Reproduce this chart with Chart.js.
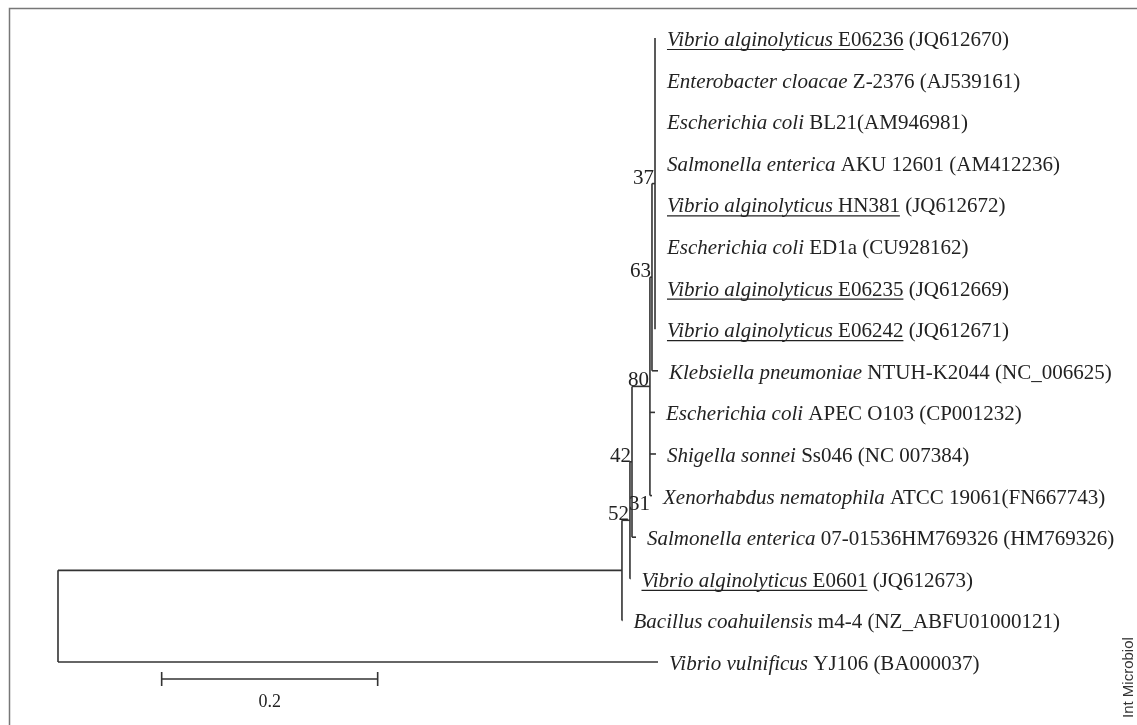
<!DOCTYPE html>
<html>
<head>
<meta charset="utf-8">
<script src="https://cdn.jsdelivr.net/npm/chart.js@4.4.0/dist/chart.umd.min.js"></script>
<style>
    html, body { margin: 0; padding: 0; background: #fff; }
    #wrap { width: 1137px; height: 725px; position: relative; }
</style>
</head>
<body>
<div id="wrap"><canvas id="treeChart"></canvas></div>
<script>
// Leaves, top to bottom (row index = position on the y axis)
const leafSpecies = [
    'Vibrio alginolyticus', 'Enterobacter cloacae', 'Escherichia coli', 'Salmonella enterica',
    'Vibrio alginolyticus', 'Escherichia coli', 'Vibrio alginolyticus', 'Vibrio alginolyticus',
    'Klebsiella pneumoniae', 'Escherichia coli', 'Shigella sonnei', 'Xenorhabdus nematophila',
    'Salmonella enterica', 'Vibrio alginolyticus', 'Bacillus coahuilensis', 'Vibrio vulnificus'
];
const leafStrain = [
    'E06236', 'Z-2376', 'BL21', 'AKU 12601', 'HN381', 'ED1a', 'E06235', 'E06242',
    'NTUH-K2044', 'APEC O103', 'Ss046', 'ATCC 19061', '07-01536HM769326', 'E0601', 'm4-4', 'YJ106'
];
const leafAccession = [
    ' (JQ612670)', ' (AJ539161)', '(AM946981)', ' (AM412236)', ' (JQ612672)', ' (CU928162)',
    ' (JQ612669)', ' (JQ612671)', ' (NC_006625)', ' (CP001232)', ' (NC 007384)', '(FN667743)',
    ' (HM769326)', ' (JQ612673)', ' (NZ_ABFU01000121)', ' (BA000037)'
];
const leafUnderlined = [true, false, false, false, true, false, true, true,
    false, false, false, false, false, true, false, false];
// distance from root (substitutions per site)
const leafDistance = [
    0.5537, 0.5537, 0.5537, 0.5537, 0.5537, 0.5537, 0.5537, 0.5537,
    0.5556, 0.5528, 0.5537, 0.5500, 0.5352, 0.5301, 0.5227, 0.5556
];

// Internal nodes: children are leaf rows (numbers) or node names (strings)
const nodeNames = ['n37', 'n63', 'n80', 'n42', 'n52', 'nA', 'root'];
const nodeDistance = [0.5528, 0.5500, 0.5481, 0.5315, 0.5296, 0.5222, 0];
const nodeChildren = [
    [0, 1, 2, 3, 4, 5, 6, 7],
    ['n37', 8],
    ['n63', 9, 10, 11],
    ['n80', 12],
    ['n42', 13],
    ['n52', 14],
    ['nA', 15]
];
const nodeSupport = ['37', '63', '80', '42', '52', '', ''];
// bootstrap value printed beside the Xenorhabdus / Salmonella rows
const extraSupport = [{ value: '31', x: 0.5481, y: 11.35 }];

// Scale bar
const scaleBarStart = 0.096;
const scaleBarValue = 0.2;
const scaleBarRow = 15.41;

// work out node rows (middle of first and last child)
const nodeRow = {};
const nodeX = {};
nodeNames.forEach((name, i) => { nodeX[name] = nodeDistance[i]; });
function rowOf(child) {
    if (typeof child === 'number') return child;
    if (nodeRow[child] === undefined) {
        const k = nodeNames.indexOf(child);
        const kids = nodeChildren[k];
        nodeRow[child] = (rowOf(kids[0]) + rowOf(kids[kids.length - 1])) / 2;
    }
    return nodeRow[child];
}
function xOf(child) {
    return typeof child === 'number' ? leafDistance[child] : nodeX[child];
}
nodeNames.forEach(n => rowOf(n));

// one dataset per branch segment
const lineColor = '#333';
const segments = [];
nodeNames.forEach((name, i) => {
    const kids = nodeChildren[i];
    const x0 = nodeDistance[i];
    segments.push([{ x: x0, y: rowOf(kids[0]) }, { x: x0, y: rowOf(kids[kids.length - 1]) }]);
    kids.forEach(c => {
        segments.push([{ x: x0, y: rowOf(c) }, { x: xOf(c), y: rowOf(c) }]);
    });
});
segments.push([{ x: scaleBarStart, y: scaleBarRow }, { x: scaleBarStart + scaleBarValue, y: scaleBarRow }]);

const datasets = segments.map(seg => ({
    data: seg,
    showLine: true,
    borderColor: lineColor,
    borderWidth: 1.6,
    pointRadius: 0,
    fill: false
}));

const serif = '"Liberation Serif", "Times New Roman", serif';

// Text, scale bar ticks and frame
const treeText = {
    id: 'treeText',
    afterDatasetsDraw(chart) {
        const { ctx, scales: { x, y } } = chart;
        ctx.save();
        ctx.fillStyle = '#222';
        ctx.strokeStyle = '#222';
        ctx.textBaseline = 'alphabetic';

        // leaf labels
        leafSpecies.forEach((sp, i) => {
            let px = x.getPixelForValue(leafDistance[i]) + 11;
            const base = y.getPixelForValue(i) + 8;
            const start = px;
            ctx.textAlign = 'left';
            ctx.font = 'italic 21px ' + serif;
            ctx.fillText(sp, px, base);
            px += ctx.measureText(sp + ' ').width;
            ctx.font = '21px ' + serif;
            ctx.fillText(leafStrain[i], px, base);
            px += ctx.measureText(leafStrain[i]).width;
            if (leafUnderlined[i]) {
                ctx.lineWidth = 1.2;
                ctx.beginPath();
                ctx.moveTo(start, base + 3.5);
                ctx.lineTo(px, base + 3.5);
                ctx.stroke();
            }
            ctx.fillText(leafAccession[i], px, base);
        });

        // bootstrap values
        ctx.font = '21px ' + serif;
        ctx.textAlign = 'right';
        nodeNames.forEach((name, i) => {
            if (!nodeSupport[i]) return;
            ctx.fillText(nodeSupport[i], x.getPixelForValue(nodeDistance[i]) - 1, y.getPixelForValue(nodeRow[name]));
        });
        extraSupport.forEach(s => {
            ctx.fillText(s.value, x.getPixelForValue(s.x), y.getPixelForValue(s.y));
        });

        // scale bar end ticks and value
        const bx0 = x.getPixelForValue(scaleBarStart);
        const bx1 = x.getPixelForValue(scaleBarStart + scaleBarValue);
        const by = y.getPixelForValue(scaleBarRow);
        ctx.lineWidth = 1.6;
        ctx.strokeStyle = lineColor;
        ctx.beginPath();
        ctx.moveTo(bx0, by - 7); ctx.lineTo(bx0, by + 7);
        ctx.moveTo(bx1, by - 7); ctx.lineTo(bx1, by + 7);
        ctx.stroke();
        ctx.textAlign = 'center';
        ctx.font = '18px ' + serif;
        ctx.fillText(String(scaleBarValue), (bx0 + bx1) / 2, by + 28);

        // frame
        ctx.strokeStyle = '#777';
        ctx.lineWidth = 1.5;
        ctx.beginPath();
        ctx.moveTo(9.5, 725); ctx.lineTo(9.5, 8.5); ctx.lineTo(1137, 8.5);
        ctx.stroke();

        // journal tag
        ctx.translate(1133, 718);
        ctx.rotate(-Math.PI / 2);
        ctx.textAlign = 'left';
        ctx.font = '15px "Liberation Sans", Arial, sans-serif';
        ctx.fillStyle = '#333';
        ctx.fillText('Int Microbiol', 0, 0);
        ctx.restore();
    }
};

new Chart(document.getElementById('treeChart').getContext('2d'), {
    type: 'scatter',
    data: { datasets: datasets },
    options: {
        responsive: true,
        maintainAspectRatio: false,
        animation: false,
        events: [],
        layout: { padding: 0 },
        plugins: { legend: { display: false }, tooltip: { enabled: false } },
        scales: {
            x: { type: 'linear', display: false, min: -0.0537, max: 0.9991 },
            y: { type: 'linear', display: false, reverse: true, min: -0.9135, max: 16.515 }
        }
    },
    plugins: [treeText]
});
</script>
</body>
</html>
